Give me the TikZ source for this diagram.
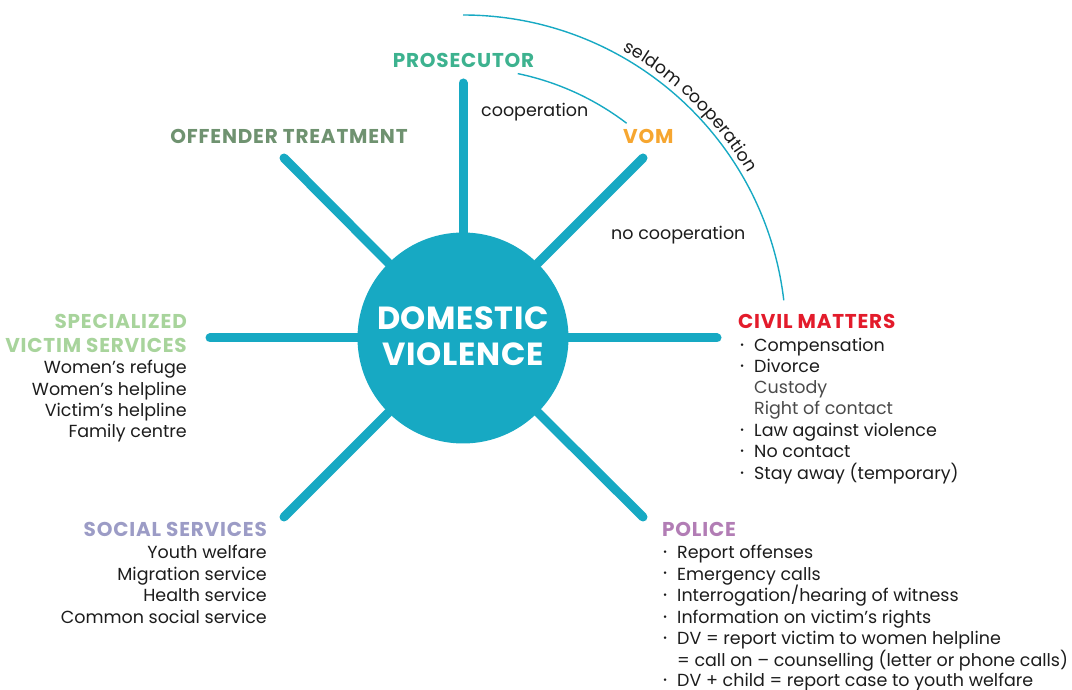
\documentclass[tikz,border=0pt]{standalone}
\usepackage{fontspec}
\setmainfont{Poppins}
\usetikzlibrary{decorations.text}
\definecolor{dvteal}{HTML}{17A9C3}
\definecolor{prosgreen}{HTML}{3DB28F}
\definecolor{offgreen}{HTML}{6F9270}
\definecolor{vomorange}{HTML}{F6A630}
\definecolor{civred}{HTML}{E31B2B}
\definecolor{polpurple}{HTML}{B27DB5}
\definecolor{specgreen}{HTML}{A8D49C}
\definecolor{socpurple}{HTML}{9C9CC6}
\definecolor{txt}{HTML}{1C1C1C}
\definecolor{soft}{HTML}{4A4A4A}
\newcommand\fs[1]{\fontsize{#1}{#1}\selectfont}
\newcommand\bul{\llap{\raisebox{3pt}{\fs{10}•}\hspace{10pt}}}
\begin{document}
\begin{tikzpicture}[x=1pt,y=1pt,
  ray/.style={line width=9pt, line cap=round, draw=dvteal},
  link/.style={line width=1.4pt, draw=dvteal},
  head/.style={font=\fs{20}\bfseries\addfontfeature{LetterSpace=4}, inner sep=0, anchor=base},
  body/.style={font=\fs{17.5}, inner sep=0, text=txt},
  lbody/.style={body, anchor=base east},
  rbody/.style={body, anchor=base west},
  core/.style={circle, fill=dvteal, minimum size=211pt, inner sep=0},
  coretext/.style={font=\fs{32}\bfseries\addfontfeature{LetterSpace=2}, text=white, anchor=base, inner sep=0}]
\useasboundingbox (0,0) rectangle (1072,689);
\coordinate (C) at (463,351);
\node[core] (core) at (C) {};
\coordinate (rN) at (463,606);
\coordinate (rNE) at (643,531);
\coordinate (rE) at (717,351);
\coordinate (rSE) at (643,172);
\coordinate (rSW) at (284,172);
\coordinate (rW) at (210,351);
\coordinate (rNW) at (284,531);
\foreach \e in {rN,rNE,rE,rSE,rSW,rW,rNW} \draw[ray] (core) -- (\e);
\node[coretext] (dom1) at (463,359) {DOMESTIC};
\node[coretext] (dom2) at (463,323) {VIOLENCE};
% arcs
\draw[link] ([shift={(90:323)}]C) arc[start angle=90, end angle=6.7, radius=323];
\draw[link] ([shift={(78.3:270)}]C) arc[start angle=78.3, end angle=52.7, radius=270];
\path[decorate, decoration={text along path, text={|\fs{17.5}\color{txt}|seldom cooperation}, text align=center}]
  ([shift={(62:329)}]C) arc[start angle=62, end angle=29, radius=329];
% top labels
\node[head, text=prosgreen] (pros) at (463.5,621) {PROSECUTOR};
\node[rbody] (coop) at (481,572) {cooperation};
\node[head, text=vomorange, anchor=base west] (vom) at (623,545) {VOM};
\node[head, text=offgreen] (off) at (289,545) {OFFENDER TREATMENT};
\node[rbody] (nocoop) at (611,449) {no cooperation};
% specialized victim services
\node[head, anchor=base east, text=specgreen] (spec1) at (187,360) {SPECIALIZED};
\node[head, anchor=base east, text=specgreen] (spec2) at (187,336) {VICTIM SERVICES};
\node[lbody] (spec3) at (187,315) {Women’s refuge};
\node[lbody] (spec4) at (187,293) {Women’s helpline};
\node[lbody] (spec5) at (187,272) {Victim’s helpline};
\node[lbody] (spec6) at (187,251) {Family centre};
% social services
\node[head, anchor=base east, text=socpurple] (soc1) at (267,153) {SOCIAL SERVICES};
\node[lbody] (soc2) at (267,131) {Youth welfare};
\node[lbody] (soc3) at (267,109) {Migration service};
\node[lbody] (soc4) at (267,88) {Health service};
\node[lbody] (soc5) at (267,66) {Common social service};
% civil matters
\node[head, anchor=base west, text=civred] (civ0) at (738,360) {CIVIL MATTERS};
\node[rbody] (civ1) at (754,337) {\bul Compensation};
\node[rbody] (civ2) at (754,316) {\bul Divorce};
\node[rbody, text=soft] (civ3) at (754,295) {Custody};
\node[rbody, text=soft] (civ4) at (754,274) {Right of contact};
\node[rbody] (civ5) at (754,252) {\bul Law against violence};
\node[rbody] (civ6) at (754,231) {\bul No contact};
\node[rbody] (civ7) at (754,209) {\bul Stay away (temporary)};
% police
\node[head, anchor=base west, text=polpurple] (pol0) at (662,153) {POLICE};
\node[rbody] (pol1) at (677,130) {\bul Report offenses};
\node[rbody] (pol2) at (677,109) {\bul Emergency calls};
\node[rbody] (pol3) at (677,88) {\bul Interrogation/hearing of witness};
\node[rbody] (pol4) at (677,66) {\bul Information on victim’s rights};
\node[rbody] (pol5) at (677,45) {\bul DV = report victim to women helpline};
\node[rbody] (pol6) at (677,23) {= call on – counselling (letter or phone calls)};
\node[rbody] (pol7) at (677,3) {\bul DV + child = report case to youth welfare};
\end{tikzpicture}
\end{document}
